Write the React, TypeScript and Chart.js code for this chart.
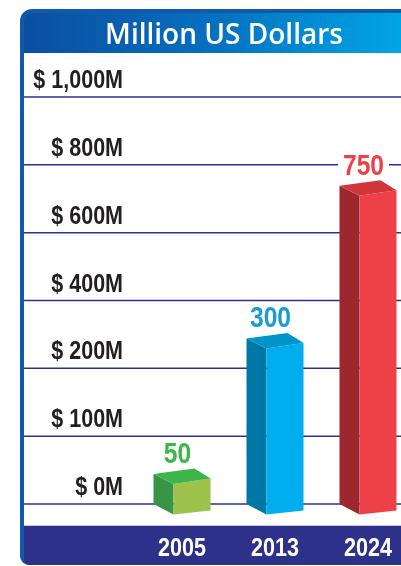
import React, { useEffect, useRef } from 'react';
import { Chart, registerables, LinearScale } from 'chart.js';

Chart.register(...registerables);

// ---- data ----
const categories = ['2005', '2013', '2024'];
const values = [50, 300, 750];
const tickValues = [0, 100, 200, 400, 600, 800, 1000];
const tickLabels = ['$ 0M', '$ 100M', '$ 200M', '$ 400M', '$ 600M', '$ 800M', '$ 1,000M'];
const valueLabels = ['50', '300', '750'];
const titleText = 'Million US Dollars';

// ---- styles ----
const barColors = [
  { front: '#9CC24B', side: '#389546', top: '#3DB54A', label: '#3DB54A' },
  { front: '#00AEEF', side: '#0078A6', top: '#0094CA', label: '#1B9AD6' },
  { front: '#EE4047', side: '#9C282D', top: '#D2363D', label: '#EE4047' },
];
const SANS = '"Liberation Sans", Arial, sans-serif';

function valueToIndex(v: number): number {
  const n = tickValues.length;
  if (v <= tickValues[0]) return (v - tickValues[0]) / (tickValues[1] - tickValues[0]);
  for (let i = 1; i < n; i++) {
    if (v <= tickValues[i]) return i - 1 + (v - tickValues[i - 1]) / (tickValues[i] - tickValues[i - 1]);
  }
  return n - 1 + (v - tickValues[n - 1]) / (tickValues[n - 1] - tickValues[n - 2]);
}
function indexToValue(idx: number): number {
  const n = tickValues.length;
  const i = Math.max(0, Math.min(n - 2, Math.floor(idx)));
  return tickValues[i] + (idx - i) * (tickValues[i + 1] - tickValues[i]);
}

class StepScale extends LinearScale {
  static id = 'step';
  static defaults = {};
  buildTicks() {
    return tickValues.map((v) => ({ value: v }));
  }
  getPixelForValue(value: any) {
    if (value === null || value === undefined || isNaN(value)) return NaN;
    return this.getPixelForDecimal(valueToIndex(+value) / (tickValues.length - 1));
  }
  getValueForPixel(pixel: number) {
    return indexToValue(this.getDecimalForPixel(pixel) * (tickValues.length - 1));
  }
}
Chart.register(StepScale as any);

// condensed bold text: Liberation Sans Bold squeezed horizontally
function narrowText(
  ctx: CanvasRenderingContext2D,
  text: string,
  x: number,
  y: number,
  size: number,
  squeeze: number,
  align: CanvasTextAlign,
  color: string
): number {
  ctx.save();
  ctx.font = `bold ${size}px ${SANS}`;
  ctx.textAlign = align;
  ctx.textBaseline = 'alphabetic';
  ctx.fillStyle = color;
  ctx.translate(x, y);
  ctx.scale(squeeze, 1);
  ctx.fillText(text, 0, 0);
  const w = ctx.measureText(text).width * squeeze;
  ctx.restore();
  return w;
}
function narrowWidth(ctx: CanvasRenderingContext2D, text: string, size: number, squeeze: number) {
  ctx.save();
  ctx.font = `bold ${size}px ${SANS}`;
  const w = ctx.measureText(text).width * squeeze;
  ctx.restore();
  return w;
}

const framePlugin = {
  id: 'frame',
  beforeDraw(chart: any) {
    const ctx = chart.ctx as CanvasRenderingContext2D;
    const W = chart.width;
    const L = 20, T = 9, B = 565, bw = 4, headerB = 53, bandT = 525;
    ctx.save();
    // outer border
    ctx.beginPath();
    ctx.roundRect(L, T, W + 40 - L, B - T, [12, 0, 0, 9]);
    ctx.fillStyle = '#1159AA';
    ctx.fill();
    // white body
    ctx.fillStyle = '#ffffff';
    ctx.fillRect(L + bw, headerB, W, bandT - headerB);
    // header gradient
    const g = ctx.createLinearGradient(L + bw, 0, W, 0);
    g.addColorStop(0, '#0B4EA2');
    g.addColorStop(0.5, '#0670C0');
    g.addColorStop(1, '#00A5E4');
    ctx.beginPath();
    ctx.roundRect(L + bw, T + bw, W, headerB - T - bw, [8, 0, 0, 0]);
    ctx.fillStyle = g;
    ctx.fill();
    // title
    ctx.fillStyle = '#ffffff';
    ctx.font = '600 28px "Open Sans", sans-serif';
    ctx.textAlign = 'center';
    ctx.textBaseline = 'alphabetic';
    ctx.fillText(titleText, 224, 44);
    // bottom band
    ctx.beginPath();
    ctx.roundRect(L + bw, bandT, W, B - bandT, [0, 0, 0, 5]);
    ctx.fillStyle = '#2E3189';
    ctx.fill();
    ctx.fillStyle = '#C5C8E0';
    ctx.fillRect(L + bw, bandT, W, 1);

    // grid lines + y labels
    const y = chart.scales.y;
    ctx.strokeStyle = '#2B3190';
    ctx.lineWidth = 1.5;
    y.ticks.forEach((t: any, i: number) => {
      const py = y.getPixelForValue(t.value);
      ctx.beginPath();
      ctx.moveTo(L + bw, py);
      ctx.lineTo(W, py);
      ctx.stroke();
      narrowText(ctx, tickLabels[i], 123, py - 9, 25, 0.86, 'right', '#231F20');
    });

    // x labels
    const x = chart.scales.x;
    categories.forEach((c, i) => {
      narrowText(ctx, c, x.getPixelForValue(i), 556, 26, 0.83, 'center', '#ffffff');
    });
    ctx.restore();
  },
  afterDatasetsDraw(chart: any) {
    const ctx = chart.ctx as CanvasRenderingContext2D;
    const meta = chart.getDatasetMeta(0);
    ctx.save();
    meta.data.forEach((el: any, i: number) => {
      const { x, y, base, width } = el.getProps(['x', 'y', 'base', 'width'], true);
      const s = width / 57;
      const x0 = x - width / 2;
      const top = y + 4;
      const BLT = [x0, top];
      const BRT = [x0 + 41 * s, top - 5.5];
      const FLT = [x0 + 20 * s, top + 10];
      const FRT = [x0 + 57 * s, top + 4.5];
      const BLB = [x0, base];
      const FLB = [x0 + 20 * s, base + 10.5];
      const FRB = [x0 + 57 * s, base + 6.5];
      const col = barColors[i];
      const poly = (pts: number[][], fill: string) => {
        ctx.beginPath();
        ctx.moveTo(pts[0][0], pts[0][1]);
        for (let k = 1; k < pts.length; k++) ctx.lineTo(pts[k][0], pts[k][1]);
        ctx.closePath();
        ctx.fillStyle = fill;
        ctx.fill();
      };
      poly([BLT, FLT, FLB, BLB], col.side);
      poly([FLT, FRT, FRB, FLB], col.front);
      poly([BLT, BRT, FRT, FLT], col.top);

      // value label
      const lx = x0 + 24 * s;
      const ly = top - 11;
      const tw = narrowWidth(ctx, valueLabels[i], 30, 0.82);
      ctx.fillStyle = '#ffffff';
      ctx.fillRect(lx - tw / 2 - 5, ly - 24, tw + 10, 28);
      narrowText(ctx, valueLabels[i], lx, ly, 30, 0.82, 'center', col.label);
    });
    ctx.restore();
  },
};

export default function App() {
  const ref = useRef<HTMLCanvasElement | null>(null);
  useEffect(() => {
    if (!ref.current) return;
    const chart = new Chart(ref.current, {
      type: 'bar',
      data: {
        labels: categories,
        datasets: [
          {
            data: values,
            backgroundColor: 'rgba(0,0,0,0)',
            borderWidth: 0,
            categoryPercentage: 1,
            barPercentage: 0.613,
          },
        ],
      },
      options: {
        responsive: false,
        animation: false,
        events: [],
        layout: { padding: { left: 182, right: 33, top: 97, bottom: 62 } },
        plugins: { legend: { display: false }, tooltip: { enabled: false }, title: { display: false } },
        scales: {
          x: { type: 'category', offset: false, display: false },
          y: { type: 'step' as any, min: 0, max: 1000, display: false },
        },
      } as any,
      plugins: [framePlugin],
    });
    return () => chart.destroy();
  }, []);
  return (
    <div style={{ position: 'fixed', left: 0, top: 0, width: 401, height: 566, background: '#fff' }}>
      <canvas ref={ref} width={401} height={566} style={{ width: 401, height: 566, display: 'block' }} />
    </div>
  );
}
